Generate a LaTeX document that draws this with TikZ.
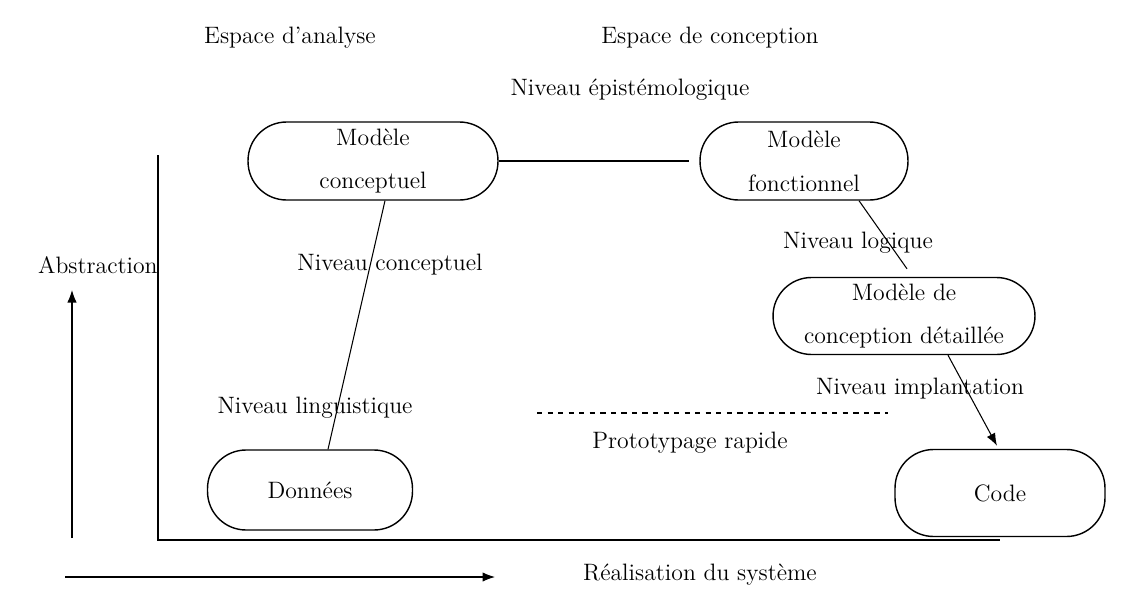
\documentclass[tikz,border=0pt]{standalone}
\usepackage{tikz}
\usetikzlibrary{arrows.meta}

\begin{document}
\begin{tikzpicture}[x=0.02cm,y=-0.02cm,
  modele/.style={draw,thick,rounded corners=0.77cm,align=center,inner sep=0pt,
    font=\fontsize{13.5}{25}\selectfont},
  lbl/.style={font=\fontsize{13.5}{16}\selectfont}]
\useasboundingbox (0,0) rectangle (1146,612);
% titres
\node[lbl] (EA) at (290,38) {Espace d'analyse};
\node[lbl] (EC) at (710,38) {Espace de conception};
\node[lbl] (NE) at (630,90) {Niveau épistémologique};
% modeles
\node[modele,minimum width=5cm,minimum height=1.56cm] (MC) at (373,161) {Modèle\\conceptuel};
\node[modele,minimum width=4.16cm,minimum height=1.56cm] (MF) at (804,161) {Modèle\\fonctionnel};
\node[modele,minimum width=5.24cm,minimum height=1.54cm] (MD) at (904,316) {Modèle de\\conception détaillée};
\node[modele,minimum width=4.1cm,minimum height=1.6cm] (D) at (310,490) {Données};
\node[modele,minimum width=4.2cm,minimum height=1.74cm] (C) at (1000,493) {Code};
% niveaux
\node[lbl] (NC) at (390,265) {Niveau conceptuel};
\node[lbl] (NL) at (858,243) {Niveau logique};
\node[lbl] (NG) at (315,408) {Niveau linguistique};
\node[lbl] (NI) at (920,389) {Niveau implantation};
\node[lbl] (PR) at (690,443) {Prototypage rapide};
\coordinate (P1) at (537,413);
\coordinate (P2) at (888,413);
\draw[semithick,dashed] (P1) -- (P2);
% liens
\draw[semithick] (MC.east) -- ([xshift=-0.2cm]MF.west);
\draw[semithick] ([xshift=0.24cm]MC.south) -- ([xshift=0.36cm]D.north);
\draw[semithick] ([xshift=1.1cm]MF.south) -- ([xshift=0.06cm,yshift=0.16cm]MD.north);
\draw[semithick,-{Latex[length=2.5mm]}] ([xshift=0.88cm]MD.south) -- ([xshift=-0.06cm,yshift=0.06cm]C.north);
% axes
\coordinate (O) at (158,540);
\coordinate (Yt) at (158,155);
\coordinate (Xr) at (1000,540);
\draw[thick] (Yt) -- (O) -- (Xr);
\coordinate (A0) at (72,538);
\coordinate (A1) at (72,290);
\draw[semithick,-{Latex[length=2.5mm]}] (A0) -- (A1);
\node[lbl,anchor=east,inner sep=0pt] (AB) at (158,265) {Abstraction};
\coordinate (R0) at (65,577);
\coordinate (R1) at (495,577);
\draw[semithick,-{Latex[length=2.5mm]}] (R0) -- (R1);
\node[lbl] (RS) at (700,575) {Réalisation du système};
\end{tikzpicture}
\end{document}
